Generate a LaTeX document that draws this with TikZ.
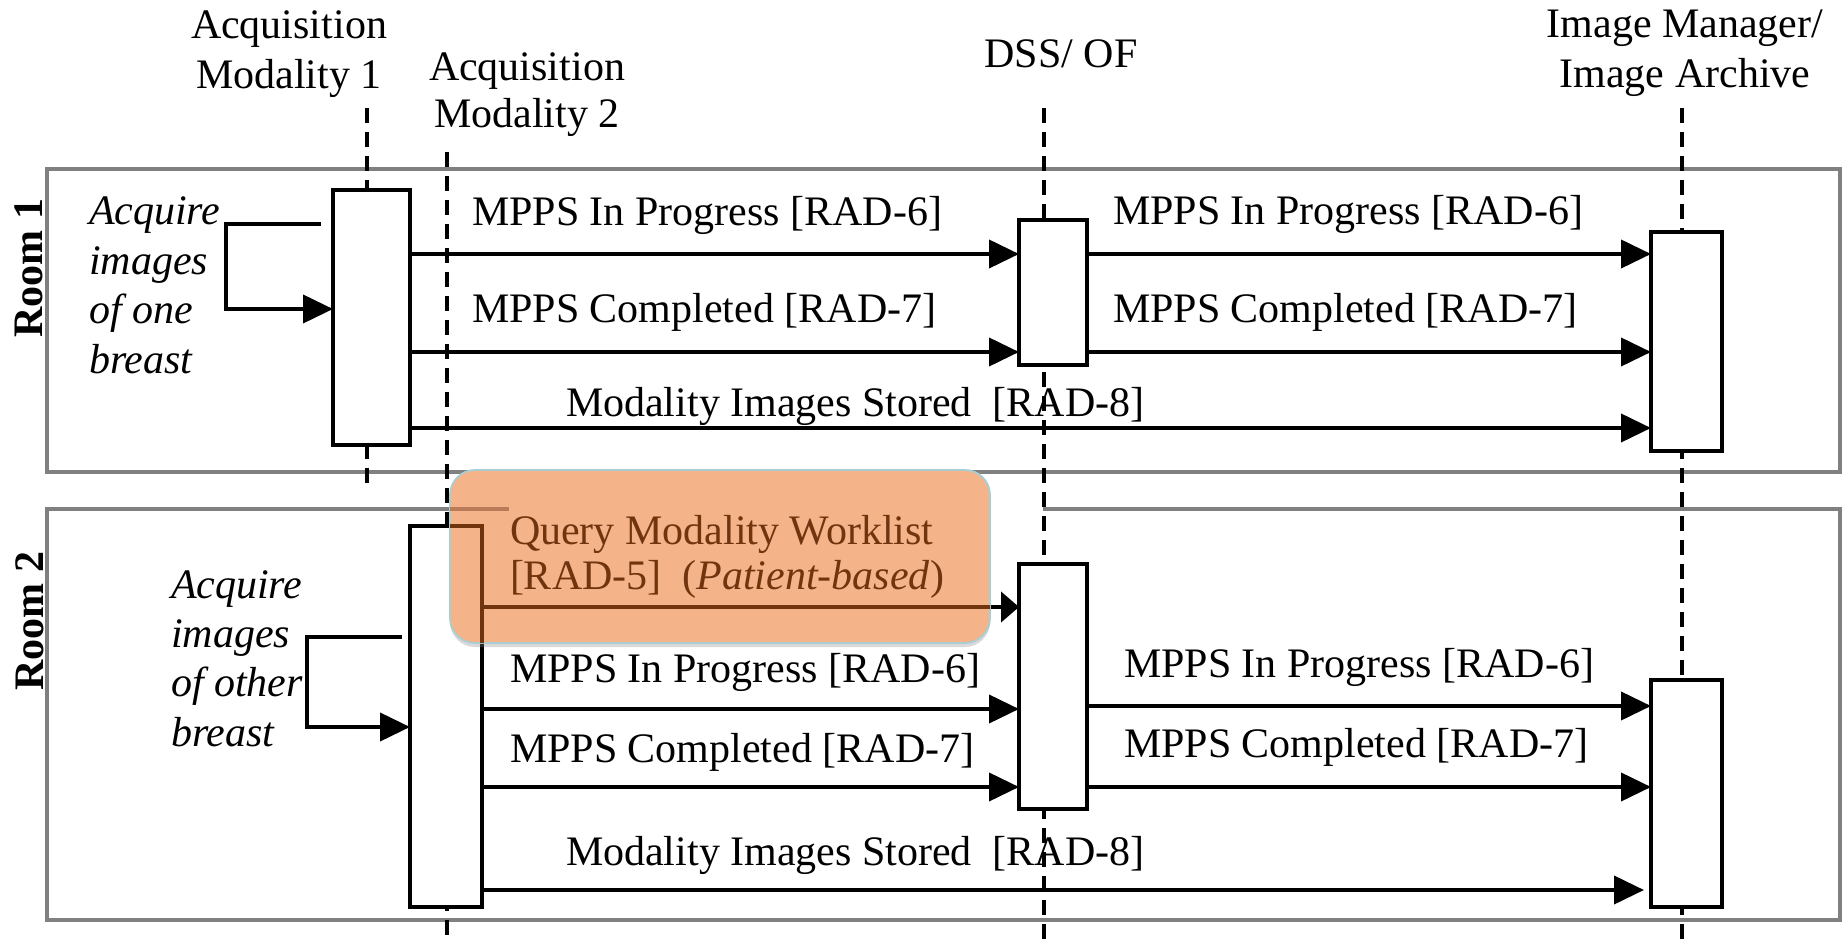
\documentclass[tikz,border=0pt]{standalone}
\usepackage{fontspec}
\setmainfont{Liberation Serif}
\usetikzlibrary{arrows.meta,fit,shadows}
\definecolor{roomgray}{RGB}{128,128,128}
\definecolor{qorange}{RGB}{244,179,137}
\definecolor{qedge}{RGB}{168,206,211}
\definecolor{qbrown}{RGB}{112,52,14}
\definecolor{qlight}{RGB}{186,124,88}
\begin{document}
\begin{tikzpicture}[x=0.5pt,y=-0.5pt,
  every node/.style={inner sep=0pt, outer sep=0pt, font=\fontsize{21pt}{25pt}\selectfont},
  lifeline/.style={line width=1.7pt, dash pattern=on 7.5pt off 4.5pt},
  actbox/.style={draw, line width=2pt, fill=white, inner sep=0pt, outer sep=0pt},
  msg/.style={line width=2pt, -{Triangle[length=15pt,width=14pt]}},
  qmsg/.style={line width=2pt, -{Triangle[length=9pt,width=15pt]}},
  roomline/.style={draw=roomgray, line width=1.6pt},
  lbl/.style={anchor=base west},
  hdr/.style={anchor=base},
  ital/.style={anchor=base west, font=\fontsize{21pt}{24.7pt}\selectfont\itshape},
  roomlbl/.style={rotate=90, font=\fontsize{21pt}{25pt}\selectfont\bfseries},
  qbox/.style={draw=qedge, line width=0.9pt, fill=qorange, rounded corners=12.5pt, inner sep=0pt,
    drop shadow={shadow xshift=0pt, shadow yshift=-2pt, opacity=0.3}},
]
\useasboundingbox (0,0) rectangle (1845,945);

% rooms
\node[roomline, inner sep=0pt, fit={(47,169) (1840,472)}] (room1) {};
\draw[roomline] (509,509) -- (47,509) -- (47,920) -- (1840,920) -- (1840,509) -- (1043,509);
\node[roomlbl] (r1) at (29,268) {Room 1};
\node[roomlbl] (r2) at (30,621) {Room 2};

% headers
\node[hdr] (hAM1) at (289,39) {\begin{tabular}[t]{@{}c@{}}Acquisition\\Modality 1\end{tabular}};
\node[hdr] (hAM2) at (527,81) {\begin{tabular}[t]{@{}c@{}}Acquisition\\[-1.5pt]Modality 2\end{tabular}};
\node[hdr] (hDSS) at (1061,68) {DSS/ OF};
\node[hdr] (hIM) at (1685,38) {\begin{tabular}[t]{@{}c@{}}Image Manager/\\Image Archive\end{tabular}};

% lifelines
\coordinate (l1t) at (367,108); \coordinate (l1b) at (367,485);
\coordinate (l2t) at (447,152); \coordinate (l2b) at (447,940);
\coordinate (l3t) at (1044,108); \coordinate (l3b) at (1044,945);
\coordinate (l4t) at (1682,108); \coordinate (l4b) at (1682,945);
\draw[lifeline] (l1t) -- (l1b);
\draw[lifeline] (l2t) -- (l2b);
\draw[lifeline] (l3t) -- (l3b);
\draw[lifeline] (l4t) -- (l4b);

% activation boxes
\node[actbox, fit={(333,190) (410,445)}] (a1) {};
\node[actbox, fit={(1019,220) (1087,365)}] (d1) {};
\node[actbox, fit={(1651,232) (1722,451)}] (m1) {};
\node[actbox, fit={(410,526) (482,907)}] (a2) {};
\node[actbox, fit={(1019,564) (1087,809)}] (d2) {};
\node[actbox, fit={(1651,680) (1722,907)}] (m2) {};

% room 1 messages
\draw[msg] (a1.east |- 0,254) -- (d1.west |- 0,254);
\draw[msg] (a1.east |- 0,352) -- (d1.west |- 0,352);
\draw[msg] (a1.east |- 0,428) -- (m1.west |- 0,428);
\draw[msg] (d1.east |- 0,254) -- (m1.west |- 0,254);
\draw[msg] (d1.east |- 0,352) -- (m1.west |- 0,352);
\node[lbl] (t11) at (472,226) {MPPS In Progress [RAD-6]};
\node[lbl] (t12) at (472,323) {MPPS Completed [RAD-7]};
\node[lbl] (t13) at (566,417) {Modality Images Stored\ \ [RAD-8]};
\node[lbl] (t14) at (1113,225) {MPPS In Progress [RAD-6]};
\node[lbl] (t15) at (1113,323) {MPPS Completed [RAD-7]};

% room 1 self action
\coordinate (s1) at (321,224);
\draw[msg] (s1) -- (226,224) -- (226,309) -- (a1.west |- 0,309);
\node[ital] (acq1) at (89,225) {\begin{tabular}[t]{@{}l@{}}Acquire\\images\\of one\\breast\end{tabular}};

% room 2 messages
\draw[qmsg] (a2.east |- 0,607) -- (d2.west |- 0,607);
\draw[msg] (a2.east |- 0,709) -- (d2.west |- 0,709);
\draw[msg] (a2.east |- 0,787) -- (d2.west |- 0,787);
\draw[msg, shorten >=3.5pt] (a2.east |- 0,890) -- (m2.west |- 0,890);
\draw[msg] (d2.east |- 0,706) -- (m2.west |- 0,706);
\draw[msg] (d2.east |- 0,787) -- (m2.west |- 0,787);
\node[lbl] (t21) at (510,682) {MPPS In Progress [RAD-6]};
\node[lbl] (t22) at (510,762) {MPPS Completed [RAD-7]};
\node[lbl] (t23) at (566,865) {Modality Images Stored\ \ [RAD-8]};
\node[lbl] (t24) at (1124,677) {MPPS In Progress [RAD-6]};
\node[lbl] (t25) at (1124,757) {MPPS Completed [RAD-7]};

% room 2 self action
\coordinate (s2) at (402,637);
\draw[msg] (s2) -- (307,637) -- (307,727) -- (a2.west |- 0,727);
\node[ital] (acq2) at (171,598) {\begin{tabular}[t]{@{}l@{}}Acquire\\images\\of other\\breast\end{tabular}};

% highlighted query
\node[qbox, fit={(450,470) (990,643)}] (q) {};
\begin{scope}
  \clip[rounded corners=12.5pt] (450,470) rectangle (990,643);
  \draw[draw=qlight, line width=1.6pt] (447,509) -- (509,509);
  \draw[draw=qbrown, line width=2pt] (a2.north west) -- (a2.north east) -- (a2.south east);
  \draw[draw=qbrown, line width=2pt] (a2.east |- 0,607) -- (d2.west |- 0,607);
\end{scope}
\node[lbl, text=qbrown] (qt) at (510,545) {\begin{tabular}[t]{@{}l@{}}Query Modality Worklist\\[-2.5pt]{[RAD-5]}\ \ (\textit{Patient-based})\end{tabular}};
\end{tikzpicture}
\end{document}
